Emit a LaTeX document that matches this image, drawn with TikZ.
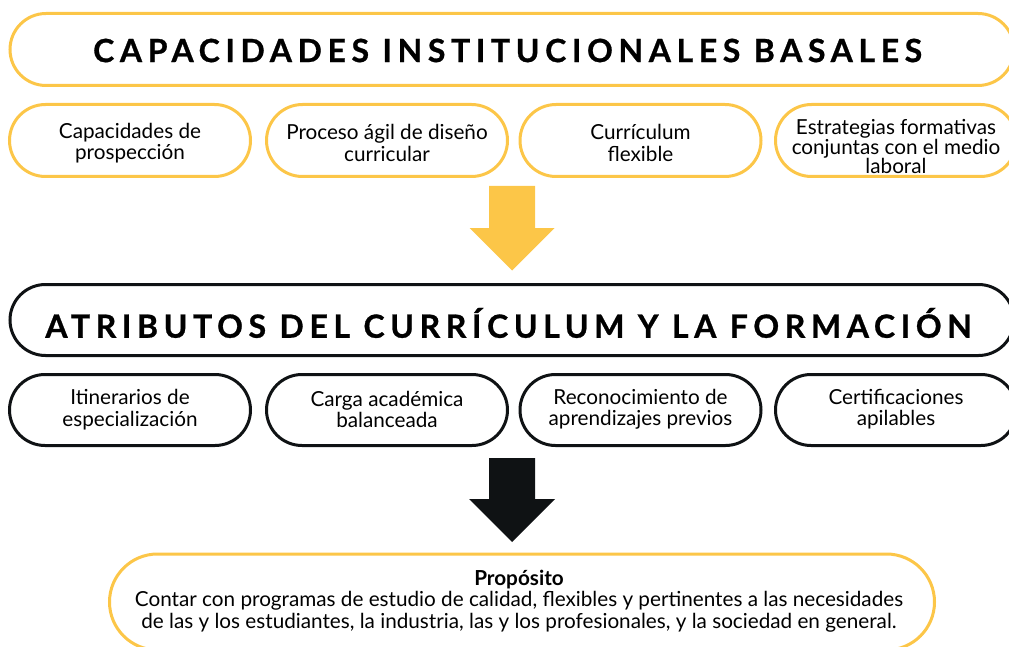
\documentclass[tikz,border=0pt]{standalone}
\usepackage{fontspec}
\setmainfont{Lato}
\newfontfamily\titlefont[LetterSpace=17.5, BoldFeatures={FakeBold=0.8}]{Lato}
\definecolor{gold}{RGB}{252,198,72}
\definecolor{ink}{RGB}{15,18,20}
\begin{document}
\begin{tikzpicture}[x=1pt,y=-1pt,
  pill/.style={draw, line width=3pt, rounded corners=#1, fill=white, inner sep=0pt},
  lbl/.style={align=center, inner sep=0pt},
  bigtitle/.style={lbl, font=\titlefont\bfseries\fontsize{32}{36}\selectfont},
  small/.style={lbl, font=\fontsize{20.7}{21.3}\selectfont}]
\useasboundingbox (0,0) rectangle (1009,647);
% top section
\node[pill=36pt, draw=gold, minimum width=1004pt, minimum height=72pt] (t1) at (512,49.5) {};
\node[bigtitle] (t1t) at (507.5,50.5) {CAPACIDADES INSTITUCIONALES BASALES};
\node[pill=36pt, draw=gold, minimum width=241pt, minimum height=72pt] (a1) at (130,140.5) {};
\node[pill=36pt, draw=gold, minimum width=241pt, minimum height=72pt] (a2) at (387,140.5) {};
\node[pill=36pt, draw=gold, minimum width=241pt, minimum height=72pt] (a3) at (640.5,140.5) {};
\node[pill=36pt, draw=gold, minimum width=241pt, minimum height=72pt] (a4) at (896,140.5) {};
\node[small] (a1t) at (a1.center) [yshift=-2.5pt] {Capacidades de\\prospección};
\node[small] (a2t) at (a2.center) [yshift=-2.5pt] {Proceso ágil de diseño\\curricular};
\node[small] (a3t) at (a3.center) [yshift=-2.5pt] {Currículum\\flexible};
\node[lbl, font=\fontsize{20.7}{19.6}\selectfont] (a4t) at (a4.center) [yshift=-6pt] {Estrategias formativas\\conjuntas con el medio\\laboral};
% yellow arrow
\fill[gold] (489,186) -- (535,186) -- (535,228) -- (554.5,228) -- (512,270.5) -- (469.5,228) -- (489,228) -- cycle;
% middle section
\node[pill=35.5pt, draw=ink, minimum width=1004pt, minimum height=71pt] (t2) at (512,320) {};
\node[bigtitle] (t2t) at (508.5,323) {ATRIBUTOS DEL CURRÍCULUM Y LA FORMACIÓN};
\node[pill=35.5pt, draw=ink, minimum width=241pt, minimum height=71pt] (b1) at (130,410) {};
\node[pill=35.5pt, draw=ink, minimum width=241pt, minimum height=71pt] (b2) at (387,410) {};
\node[pill=35.5pt, draw=ink, minimum width=241pt, minimum height=71pt] (b3) at (640.5,410) {};
\node[pill=35.5pt, draw=ink, minimum width=241pt, minimum height=71pt] (b4) at (896,410) {};
\node[small] (b1t) at (b1.center) [yshift=0.5pt] {Itinerarios de\\especialización};
\node[small] (b2t) at (b2.center) [yshift=0.5pt] {Carga académica\\balanceada};
\node[small] (b3t) at (b3.center) [yshift=0.5pt] {Reconocimiento de\\aprendizajes previos};
\node[small] (b4t) at (b4.center) [yshift=0.5pt] {Certificaciones\\apilables};
% black arrow
\fill[ink] (489,458) -- (535,458) -- (535,499) -- (555,499) -- (512,542) -- (469,499) -- (489,499) -- cycle;
% bottom purpose
\node[pill=48pt, draw=gold, minimum width=825pt, minimum height=96pt] (p) at (522,602) {};
\node[lbl, font=\fontsize{20.7}{21.5}\selectfont] (pt) at (519,601) {\textbf{Propósito}\\Contar con programas de estudio de calidad, flexibles y pertinentes a las necesidades\\de las y los estudiantes, la industria, las y los profesionales, y la sociedad en general.};
\end{tikzpicture}
\end{document}
